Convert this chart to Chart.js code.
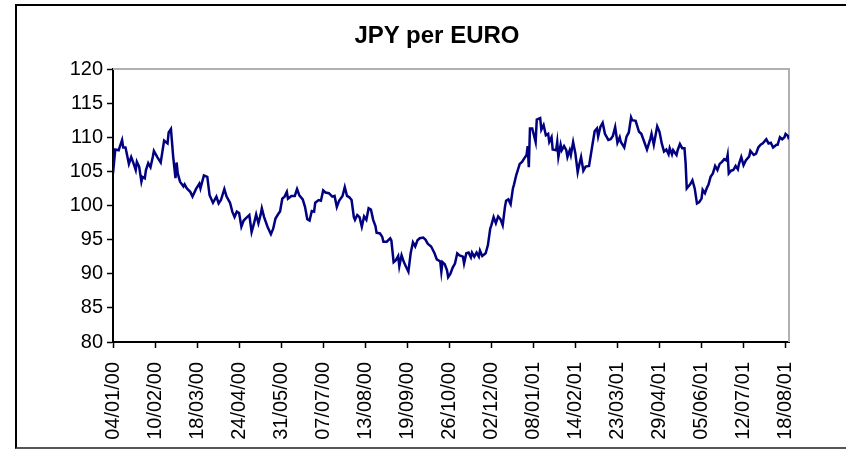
<!DOCTYPE html>
<html>
<head>
<meta charset="utf-8">
<script src="https://cdn.jsdelivr.net/npm/chart.js@4.4.1/dist/chart.umd.min.js"></script>
<style>
    html, body { margin: 0; padding: 0; background: #fff; }
    #wrap { position: relative; width: 846px; height: 449px; overflow: hidden; }
    #frame {
        position: absolute; left: 15px; top: 4px; width: 860px; height: 441px;
        border: 2px solid #000; border-bottom-color: #555;
    }
    #chart-box { position: absolute; left: 0; top: 0; width: 846px; height: 449px; }
    #title {
        position: absolute; left: 337px; top: 21px; width: 200px; text-align: center;
        font: bold 24px 'Liberation Sans', Arial, sans-serif; color: #000; line-height: 28px;
    }
</style>
</head>
<body>
<div id="wrap">
    <div id="frame"></div>
    <div id="chart-box"><canvas id="myChart"></canvas></div>
    <div id="title">JPY per EURO</div>
</div>
<script>
// x tick labels, one every 37 days from 04/01/00
const tickLabels = ['04/01/00', '10/02/00', '18/03/00', '24/04/00', '31/05/00', '07/07/00',
    '13/08/00', '19/09/00', '26/10/00', '02/12/00', '08/01/01', '14/02/01', '23/03/01',
    '29/04/01', '05/06/01', '12/07/01', '18/08/01'];
const tickDays = [0, 37, 74, 111, 148, 185, 222, 259, 296, 333, 370, 407, 444, 481, 518, 555, 592];

// days since 04/01/00 and the JPY per EURO rate
const days = [
    0, 2, 5, 8, 9, 11, 14, 16, 18, 20, 21, 23, 25, 26, 28, 29, 31, 33, 35, 36,
    39, 42, 45, 48, 49, 51, 53, 55, 56, 57, 59, 62, 63, 65, 68, 70, 73, 76, 77, 80,
    83, 85, 88, 91, 93, 95, 98, 100, 103, 105, 107, 109, 111, 113, 115, 118, 120, 122, 124, 126,
    128, 130, 131, 133, 136, 139, 141, 143, 146, 147, 149, 151, 153, 154, 157, 160, 162, 164, 167, 169,
    171, 173, 175, 177, 178, 181, 183, 185, 187, 190, 193, 195, 197, 199, 202, 204, 206, 208, 210, 212,
    213, 215, 217, 219, 221, 223, 225, 227, 229, 231, 232, 235, 237, 238, 241, 244, 245, 247, 249, 251,
    252, 254, 256, 258, 260, 262, 264, 266, 268, 270, 273, 275, 277, 280, 283, 285, 288, 289, 290, 292,
    294, 295, 297, 299, 301, 303, 305, 308, 309, 311, 313, 315, 316, 318, 320, 322, 323, 325, 328, 330,
    332, 333, 335, 337, 339, 341, 343, 345, 346, 348, 350, 352, 353, 355, 358, 360, 362, 364, 365, 366,
    367, 369, 372, 373, 376, 377, 379, 381, 383, 384, 386, 387, 390, 391, 392, 394, 395, 397, 399, 400,
    402, 403, 405, 407, 409, 410, 412, 414, 416, 419, 422, 424, 426, 427, 429, 431, 433, 436, 438, 440,
    442, 444, 446, 447, 450, 452, 454, 456, 457, 460, 463, 465, 467, 470, 473, 474, 476, 479, 481, 483,
    485, 487, 489, 490, 492, 493, 496, 497, 499, 501, 503, 504, 505, 508, 510, 512, 514, 516, 518, 519,
    521, 523, 524, 526, 528, 530, 532, 534, 536, 538, 540, 541, 542, 544, 546, 548, 550, 551, 553, 555,
    557, 560, 561, 564, 566, 568, 570, 572, 575, 577, 579, 581, 584, 585, 587, 589, 591, 592, 594, 595
];
const jpyPerEuro = [
    104.7, 108.2, 108.1, 109.6, 108.5, 108.5, 106.1, 107.1, 106.2, 105.2, 106.4, 105.7, 103.5, 104.2, 104.0, 105.2, 106.2, 105.6, 107.1, 108.0,
    107.1, 106.3, 109.5, 109.1, 110.7, 111.2, 107.1, 104.0, 106.3, 104.7, 103.5, 102.8, 103.1, 102.5, 102.0, 101.3, 102.4, 103.2, 102.5, 104.4,
    104.2, 101.5, 100.4, 101.3, 100.3, 100.8, 102.4, 101.3, 100.4, 99.1, 98.3, 99.1, 98.9, 96.9, 97.8, 98.3, 98.6, 96.1, 97.3, 98.7,
    97.4, 98.7, 99.6, 98.3, 96.9, 95.8, 96.6, 98.1, 98.9, 99.1, 101.0, 101.3, 102.0, 101.0, 101.4, 101.4, 102.4, 101.5, 100.9, 99.8,
    98.0, 97.8, 99.2, 99.1, 100.4, 100.8, 100.7, 102.2, 101.9, 101.8, 101.3, 101.4, 99.8, 100.7, 101.4, 102.7, 101.4, 101.2, 100.8, 98.3,
    97.9, 98.6, 98.3, 96.9, 98.4, 97.9, 99.6, 99.4, 97.9, 97.0, 96.0, 95.9, 95.4, 94.7, 94.7, 95.2, 94.9, 91.7, 92.0, 92.6,
    91.1, 92.7, 91.7, 91.0, 90.3, 93.0, 94.6, 94.0, 94.9, 95.2, 95.3, 95.0, 94.4, 94.0, 93.0, 92.1, 91.8, 90.3, 91.7, 91.4,
    90.5, 89.5, 90.0, 90.9, 91.5, 93.0, 92.7, 92.5, 91.5, 93.0, 93.1, 92.4, 93.1, 92.5, 93.1, 92.5, 93.4, 92.6, 93.0, 94.2,
    96.6, 97.1, 98.3, 97.4, 98.4, 98.0, 97.1, 99.8, 100.7, 100.9, 100.2, 102.5, 103.1, 104.5, 106.1, 106.4, 106.9, 107.4, 108.7, 105.6,
    111.3, 111.3, 109.3, 112.6, 112.8, 111.1, 111.8, 110.3, 110.5, 109.3, 110.0, 108.2, 108.1, 109.3, 107.1, 108.9, 108.1, 108.7, 108.1, 107.1,
    108.1, 107.4, 109.3, 107.6, 104.9, 105.7, 107.1, 105.1, 105.7, 105.8, 108.9, 110.9, 111.3, 110.1, 111.5, 112.1, 110.5, 109.6, 109.7, 110.2,
    111.5, 109.2, 110.0, 109.3, 108.5, 110.1, 110.7, 112.9, 112.5, 112.4, 110.8, 110.5, 109.6, 108.2, 109.8, 110.5, 108.9, 111.6, 110.8, 109.1,
    107.9, 108.2, 107.5, 108.4, 107.5, 108.1, 107.4, 108.1, 109.0, 108.4, 108.4, 106.2, 102.5, 103.1, 103.7, 102.5, 100.3, 100.5, 101.0, 102.3,
    101.8, 102.7, 103.0, 104.2, 104.7, 105.8, 105.2, 106.1, 106.4, 106.8, 106.6, 107.4, 104.7, 105.1, 105.2, 105.8, 105.3, 106.1, 107.1, 105.9,
    106.6, 107.2, 108.0, 107.4, 107.6, 108.5, 108.9, 109.1, 109.7, 109.1, 109.2, 108.5, 108.9, 108.9, 110.0, 109.7, 110.0, 110.5, 110.2, 109.7
];

const ctx = document.getElementById('myChart').getContext('2d');

// grey border on top and right of the plot area
const plotBorder = {
    id: 'plotBorder',
    beforeDatasetsDraw(chart) {
        const a = chart.chartArea;
        const c = chart.ctx;
        c.save();
        c.strokeStyle = '#b0b0b0';
        c.lineWidth = 2;
        c.beginPath();
        c.moveTo(a.left, a.top);
        c.lineTo(a.right, a.top);
        c.lineTo(a.right, a.bottom);
        c.stroke();
        c.restore();
    }
};

new Chart(ctx, {
    type: 'line',
    data: {
        datasets: [{
            label: 'JPY per EURO',
            data: days.map((d, i) => ({ x: d, y: jpyPerEuro[i] })),
            borderColor: '#000080',
            borderWidth: 2.5,
            pointRadius: 0,
            tension: 0,
            fill: false
        }]
    },
    options: {
        responsive: true,
        maintainAspectRatio: false,
        animation: false,
        layout: { padding: { left: 0, right: 57, top: 69, bottom: 0 } },
        plugins: {
            legend: { display: false },
            tooltip: { enabled: false },
            title: { display: false }
        },
        scales: {
            x: {
                type: 'linear',
                min: 0,
                max: 595,
                afterBuildTicks: (axis) => { axis.ticks = tickDays.map(v => ({ value: v })); },
                afterFit: (axis) => { axis.height = 107; },
                grid: { drawOnChartArea: false, color: '#000', tickLength: 6, tickWidth: 1.5 },
                border: { color: '#000', width: 2 },
                ticks: {
                    color: '#000',
                    minRotation: 90,
                    maxRotation: 90,
                    padding: 14,
                    font: { family: 'Liberation Sans, Arial, sans-serif', size: 20 },
                    callback: (v) => tickLabels[tickDays.indexOf(v)]
                }
            },
            y: {
                min: 80,
                max: 120,
                afterFit: (axis) => { axis.width = 113; },
                grid: { drawOnChartArea: false, color: '#000', tickLength: 6, tickWidth: 1.5 },
                border: { color: '#000', width: 2 },
                ticks: {
                    color: '#000',
                    stepSize: 5,
                    padding: 4,
                    font: { family: 'Liberation Sans, Arial, sans-serif', size: 20 }
                }
            }
        }
    },
    plugins: [plotBorder]
});
</script>
</body>
</html>
